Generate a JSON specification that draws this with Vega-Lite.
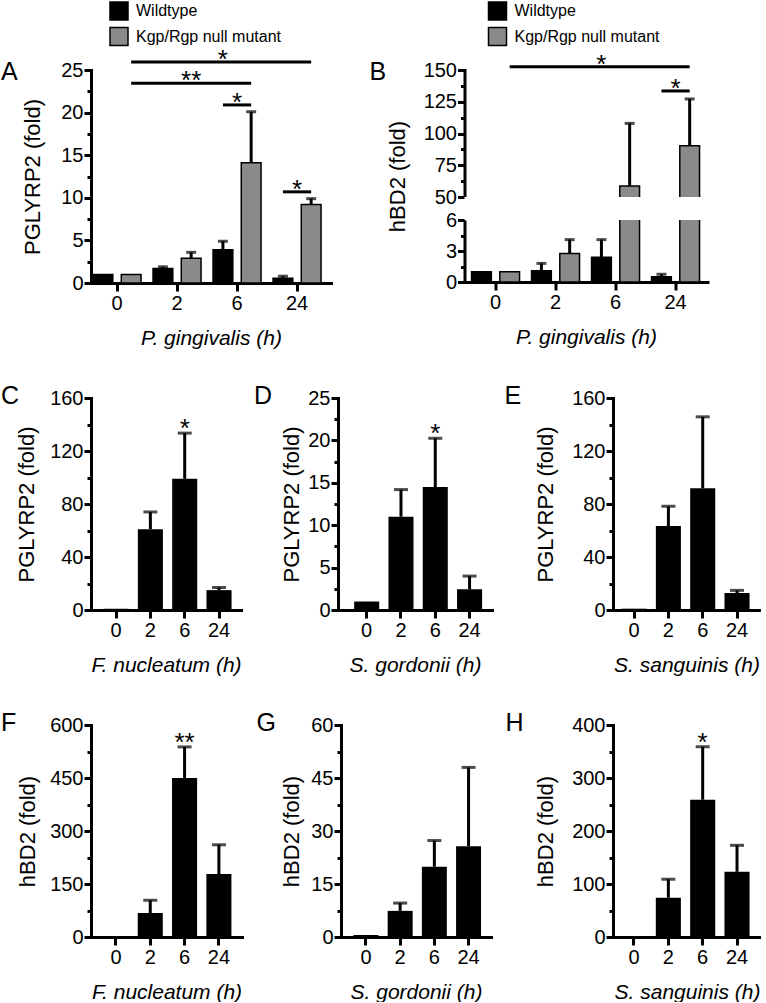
{
  "$schema": "https://vega.github.io/schema/vega-lite/v6.json",
  "padding": {"left": 0, "top": 1, "right": 0, "bottom": 0},
  "background": "white",
  "spacing": 36,
  "datasets": {
    "a": [
      {"time": 0, "group": "Wildtype", "mean": 1.0, "upper": null},
      {"time": 0, "group": "Kgp/Rgp null mutant", "mean": 1.0, "upper": null},
      {"time": 2, "group": "Wildtype", "mean": 1.7, "upper": 1.9},
      {"time": 2, "group": "Kgp/Rgp null mutant", "mean": 2.9, "upper": 3.6},
      {"time": 6, "group": "Wildtype", "mean": 3.9, "upper": 4.9},
      {"time": 6, "group": "Kgp/Rgp null mutant", "mean": 14.1, "upper": 20.1},
      {"time": 24, "group": "Wildtype", "mean": 0.55, "upper": 0.8},
      {"time": 24, "group": "Kgp/Rgp null mutant", "mean": 9.2, "upper": 9.9}
    ],
    "a_br": [
      {"id": 1, "time": 0, "group": "Kgp/Rgp null mutant", "level": 25.95},
      {"id": 1, "time": 24, "group": "Kgp/Rgp null mutant", "level": 25.95},
      {"id": 2, "time": 0, "group": "Kgp/Rgp null mutant", "level": 23.45},
      {"id": 2, "time": 6, "group": "Kgp/Rgp null mutant", "level": 23.45},
      {"id": 3, "time": 6, "group": "Wildtype", "level": 20.9},
      {"id": 3, "time": 6, "group": "Kgp/Rgp null mutant", "level": 20.9},
      {"id": 4, "time": 24, "group": "Wildtype", "level": 10.7},
      {"id": 4, "time": 24, "group": "Kgp/Rgp null mutant", "level": 10.7}
    ],
    "a_st1": [
      {"time": 6, "group": "Wildtype", "level": 25.95, "label": "*"},
      {"time": 2, "group": "Kgp/Rgp null mutant", "level": 23.45, "label": "**"}
    ],
    "a_st2": [
      {"time": 6, "level": 20.9, "label": "*"},
      {"time": 24, "level": 10.7, "label": "*"}
    ],
    "b": [
      {"time": 0, "group": "Wildtype", "mean": 1.0, "upper": null},
      {"time": 0, "group": "Kgp/Rgp null mutant", "mean": 1.0, "upper": null},
      {"time": 2, "group": "Wildtype", "mean": 1.1, "upper": 1.8},
      {"time": 2, "group": "Kgp/Rgp null mutant", "mean": 2.75, "upper": 4.1},
      {"time": 6, "group": "Wildtype", "mean": 2.4, "upper": 4.1},
      {"time": 6, "group": "Kgp/Rgp null mutant", "mean": 58.6, "upper": 108},
      {"time": 24, "group": "Wildtype", "mean": 0.5, "upper": 0.75},
      {"time": 24, "group": "Kgp/Rgp null mutant", "mean": 90.3, "upper": 127.2}
    ],
    "b_br": [
      {"id": 1, "time": 0, "group": "Kgp/Rgp null mutant", "level": 152.6},
      {"id": 1, "time": 24, "group": "Kgp/Rgp null mutant", "level": 152.6},
      {"id": 2, "time": 24, "group": "Wildtype", "level": 133.5},
      {"id": 2, "time": 24, "group": "Kgp/Rgp null mutant", "level": 133.5}
    ],
    "b_st1": [
      {"time": 6, "group": "Wildtype", "level": 152.6, "label": "*"}
    ],
    "b_st2": [
      {"time": 24, "level": 133.5, "label": "*"}
    ],
    "c": [
      {"time": 0, "mean": 1, "upper": null, "star": null},
      {"time": 2, "mean": 61, "upper": 74, "star": null},
      {"time": 6, "mean": 99, "upper": 133.5, "star": "*"},
      {"time": 24, "mean": 15, "upper": 17, "star": null}
    ],
    "d": [
      {"time": 0, "mean": 1.0, "upper": null, "star": null},
      {"time": 2, "mean": 11.0, "upper": 14.2, "star": null},
      {"time": 6, "mean": 14.5, "upper": 20.25, "star": "*"},
      {"time": 24, "mean": 2.45, "upper": 4.0, "star": null}
    ],
    "e": [
      {"time": 0, "mean": 1, "upper": null, "star": null},
      {"time": 2, "mean": 63.4, "upper": 78.3, "star": null},
      {"time": 6, "mean": 91.8, "upper": 145.8, "star": null},
      {"time": 24, "mean": 12.8, "upper": 14.8, "star": null}
    ],
    "f": [
      {"time": 0, "mean": 1, "upper": null, "star": null},
      {"time": 2, "mean": 68, "upper": 104, "star": null},
      {"time": 6, "mean": 450, "upper": 538, "star": "**"},
      {"time": 24, "mean": 178, "upper": 261, "star": null}
    ],
    "g": [
      {"time": 0, "mean": 0.6, "upper": null, "star": null},
      {"time": 2, "mean": 7.4, "upper": 9.6, "star": null},
      {"time": 6, "mean": 19.9, "upper": 27.3, "star": null},
      {"time": 24, "mean": 25.7, "upper": 48, "star": null}
    ],
    "h": [
      {"time": 0, "mean": 1, "upper": null, "star": null},
      {"time": 2, "mean": 74, "upper": 109, "star": null},
      {"time": 6, "mean": 259, "upper": 359, "star": "*"},
      {"time": 24, "mean": 123, "upper": 173, "star": null}
    ]
  },
  "config": {
    "view": {"stroke": null},
    "font": "Liberation Sans",
    "axis": {
      "domainColor": "#000", "domainWidth": 3, "domainCap": "square",
      "tickColor": "#000", "tickWidth": 3,
      "labelColor": "#000", "titleColor": "#000",
      "labelFont": "Liberation Sans", "titleFont": "Liberation Sans",
      "labelFontSize": 20, "titleFontSize": 22, "titleFontWeight": "normal",
      "grid": false, "labelOverlap": false
    },
    "axisX": {"tickSize": 8, "labelAngle": 0, "labelPadding": 2, "titleFontStyle": "italic", "titleFontSize": 21, "titlePadding": 14},
    "axisY": {"labelPadding": 1, "tickCount": 100, "format": "d"},
    "legend": {
      "labelFont": "Liberation Sans", "labelFontSize": 16, "labelColor": "#000",
      "symbolType": "square", "symbolSize": 324, "symbolStrokeColor": "#000", "symbolStrokeWidth": 1.5,
      "rowPadding": 1.5, "labelOffset": 7, "padding": 0
    },
    "title": {"font": "Liberation Sans", "fontSize": 25, "fontWeight": "normal", "color": "#000", "orient": "top", "anchor": "start", "frame": "group", "align": "right", "baseline": "middle", "offset": 0},
    "text": {"font": "Liberation Sans", "color": "#000"}
  },
  "vconcat": [
    {
      "spacing": 38.5,
      "resolve": {"scale": {"fill": "independent"}, "legend": {"fill": "independent"}},
      "hconcat": [
        {
          "width": 240, "height": 213,
          "title": {"text": "A", "orient": "top", "anchor": "start", "frame": "group", "align": "right", "baseline": "middle", "offset": 0, "dx": -73.3, "dy": 96},
          "layer": [
            {
              "data": {"name": "a"},
              "mark": {"type": "bar", "stroke": "#000", "strokeWidth": 1.5},
              "encoding": {
                "x": {"field": "time", "type": "ordinal", "scale": {"paddingInner": 0.2, "paddingOuter": 0.1, "align": 0.17}, "axis": {"title": "P. gingivalis (h)"}},
                "xOffset": {"field": "group", "type": "nominal", "scale": {"domain": ["Wildtype", "Kgp/Rgp null mutant"], "paddingInner": 0.3}},
                "y": {"field": "mean", "type": "quantitative", "scale": {"domain": [0, 25], "nice": false},
                  "axis": {"title": "PGLYRP2 (fold)", "titlePadding": 16, "tickCount": 100, "format": "d", "values": [0, 2.5, 5, 7.5, 10, 12.5, 15, 17.5, 20, 22.5, 25],
                    "labelExpr": "datum.value % 5 === 0 ? datum.label : ''",
                    "tickSize": {"condition": {"test": "datum.value % 5 === 0", "value": 7}, "value": 4}}},
                "fill": {"field": "group", "type": "nominal", "scale": {"domain": ["Wildtype", "Kgp/Rgp null mutant"], "range": ["#000000", "#8a8a8a"]},
                  "legend": {"orient": "none", "legendX": 18, "legendY": -69, "direction": "vertical", "title": null}}
              }
            },
            {
              "data": {"name": "a"},
              "transform": [{"filter": "datum.upper != null"}],
              "mark": {"type": "rule", "strokeWidth": 3, "color": "#000"},
              "encoding": {
                "x": {"field": "time", "type": "ordinal"},
                "xOffset": {"field": "group", "type": "nominal", "scale": {"domain": ["Wildtype", "Kgp/Rgp null mutant"]}},
                "y": {"field": "mean", "type": "quantitative"},
                "y2": {"field": "upper"}
              }
            },
            {
              "data": {"name": "a"},
              "transform": [{"filter": "datum.upper != null"}],
              "mark": {"type": "tick", "thickness": 3, "size": 10, "color": "#000"},
              "encoding": {
                "x": {"field": "time", "type": "ordinal"},
                "xOffset": {"field": "group", "type": "nominal", "scale": {"domain": ["Wildtype", "Kgp/Rgp null mutant"]}},
                "y": {"field": "upper", "type": "quantitative"}
              }
            },
            {
              "data": {"name": "a_br"},
              "mark": {"type": "line", "strokeWidth": 3, "color": "#000"},
              "encoding": {
                "x": {"field": "time", "type": "ordinal"},
                "xOffset": {"field": "group", "type": "nominal", "scale": {"domain": ["Wildtype", "Kgp/Rgp null mutant"]}},
                "y": {"field": "level", "type": "quantitative"},
                "detail": {"field": "id", "type": "nominal"}
              }
            },
            {
              "data": {"name": "a_st1"},
              "mark": {"type": "text", "fontSize": 26, "dy": 6, "baseline": "alphabetic"},
              "encoding": {
                "x": {"field": "time", "type": "ordinal"},
                "xOffset": {"field": "group", "type": "nominal", "scale": {"domain": ["Wildtype", "Kgp/Rgp null mutant"]}},
                "y": {"field": "level", "type": "quantitative"},
                "text": {"field": "label"}
              }
            },
            {
              "data": {"name": "a_st2"},
              "mark": {"type": "text", "fontSize": 26, "dy": 6, "baseline": "alphabetic"},
              "encoding": {
                "x": {"field": "time", "type": "ordinal"},
                "y": {"field": "level", "type": "quantitative"},
                "text": {"field": "label"}
              }
            }
          ]
        },
        {
          "width": 243, "height": 212,
          "title": {"text": "B", "orient": "top", "anchor": "start", "frame": "group", "align": "right", "baseline": "middle", "offset": 0, "dx": -78.3, "dy": 96},
          "layer": [
            {
              "data": {"name": "b"},
              "mark": {"type": "bar", "stroke": "#000", "strokeWidth": 1.5},
              "encoding": {
                "x": {"field": "time", "type": "ordinal", "scale": {"paddingInner": 0.2, "paddingOuter": 0.125, "align": 0.47}, "axis": {"title": "P. gingivalis (h)"}},
                "xOffset": {"field": "group", "type": "nominal", "scale": {"domain": ["Wildtype", "Kgp/Rgp null mutant"], "paddingInner": 0.3}},
                "y": {"field": "mean", "type": "quantitative", "scale": {"domain": [0, 6, 50, 150], "range": [212, 150, 127, 0], "nice": false, "zero": false},
                  "axis": {"title": "hBD2 (fold)", "titlePadding": 14, "tickCount": 100, "format": "d", "values": [0, 1.5, 3, 4.5, 6, 50, 62.5, 75, 87.5, 100, 112.5, 125, 137.5, 150],
                    "labelExpr": "indexof([0,3,6,50,75,100,125,150], datum.value) >= 0 ? datum.label : ''",
                    "tickSize": {"condition": {"test": "indexof([0,3,6,50,75,100,125,150], datum.value) >= 0", "value": 7}, "value": 4},
                    "domainDash": [60.5, 26, 200]}},
                "fill": {"field": "group", "type": "nominal", "scale": {"domain": ["Wildtype", "Kgp/Rgp null mutant"], "range": ["#000000", "#8a8a8a"]},
                  "legend": {"orient": "none", "legendX": 23, "legendY": -69, "direction": "vertical", "title": null}}
              }
            },
            {
              "data": {"values": [{"gap": "axis break"}]},
              "mark": {"type": "rect", "color": "white"},
              "encoding": {
                "y": {"datum": 6, "type": "quantitative"},
                "y2": {"datum": 50}
              }
            },
            {
              "data": {"name": "b"},
              "transform": [{"filter": "datum.upper != null"}],
              "mark": {"type": "rule", "strokeWidth": 3, "color": "#000"},
              "encoding": {
                "x": {"field": "time", "type": "ordinal"},
                "xOffset": {"field": "group", "type": "nominal", "scale": {"domain": ["Wildtype", "Kgp/Rgp null mutant"]}},
                "y": {"field": "mean", "type": "quantitative"},
                "y2": {"field": "upper"}
              }
            },
            {
              "data": {"name": "b"},
              "transform": [{"filter": "datum.upper != null"}],
              "mark": {"type": "tick", "thickness": 3, "size": 10, "color": "#000"},
              "encoding": {
                "x": {"field": "time", "type": "ordinal"},
                "xOffset": {"field": "group", "type": "nominal", "scale": {"domain": ["Wildtype", "Kgp/Rgp null mutant"]}},
                "y": {"field": "upper", "type": "quantitative"}
              }
            },
            {
              "data": {"name": "b_br"},
              "mark": {"type": "line", "strokeWidth": 3, "color": "#000"},
              "encoding": {
                "x": {"field": "time", "type": "ordinal"},
                "xOffset": {"field": "group", "type": "nominal", "scale": {"domain": ["Wildtype", "Kgp/Rgp null mutant"]}},
                "y": {"field": "level", "type": "quantitative"},
                "detail": {"field": "id", "type": "nominal"}
              }
            },
            {
              "data": {"name": "b_st1"},
              "mark": {"type": "text", "fontSize": 26, "dy": 6, "baseline": "alphabetic"},
              "encoding": {
                "x": {"field": "time", "type": "ordinal"},
                "xOffset": {"field": "group", "type": "nominal", "scale": {"domain": ["Wildtype", "Kgp/Rgp null mutant"]}},
                "y": {"field": "level", "type": "quantitative"},
                "text": {"field": "label"}
              }
            },
            {
              "data": {"name": "b_st2"},
              "mark": {"type": "text", "fontSize": 26, "dy": 6, "baseline": "alphabetic"},
              "encoding": {
                "x": {"field": "time", "type": "ordinal"},
                "y": {"field": "level", "type": "quantitative"},
                "text": {"field": "label"}
              }
            }
          ]
        }
      ]
    },
    {
      "spacing": 12,
      "hconcat": [
        {
          "width": 150, "height": 212, "data": {"name": "c"},
          "title": {"text": "C", "orient": "top", "anchor": "start", "frame": "group", "align": "right", "baseline": "middle", "offset": 0, "dx": -72, "dy": 33},
          "layer": [
            {"mark": {"type": "bar", "color": "#000"},
             "encoding": {
               "x": {"field": "time", "type": "ordinal", "scale": {"paddingInner": 0.27, "paddingOuter": 0.32, "align": 0.57}, "axis": {"title": "F. nucleatum (h)"}},
               "y": {"field": "mean", "type": "quantitative", "scale": {"domain": [0, 160], "nice": false},
                 "axis": {"title": "PGLYRP2 (fold)", "titlePadding": 11, "tickCount": 100, "format": "d", "values": [0, 20, 40, 60, 80, 100, 120, 140, 160], "labelExpr": "datum.value % 40 === 0 ? datum.label : ''",
                   "tickSize": {"condition": {"test": "datum.value % 40 === 0", "value": 7}, "value": 4}}}}},
            {"transform": [{"filter": "datum.upper != null"}], "mark": {"type": "rule", "strokeWidth": 3, "color": "#000"},
             "encoding": {"x": {"field": "time", "type": "ordinal"}, "y": {"field": "mean", "type": "quantitative"}, "y2": {"field": "upper"}}},
            {"transform": [{"filter": "datum.upper != null"}], "mark": {"type": "tick", "thickness": 3, "size": 14, "color": "#000"},
             "encoding": {"x": {"field": "time", "type": "ordinal"}, "y": {"field": "upper", "type": "quantitative"}}},
            {"transform": [{"filter": "datum.star != null"}], "mark": {"type": "text", "fontSize": 26, "dy": 4, "baseline": "alphabetic"},
             "encoding": {"x": {"field": "time", "type": "ordinal"}, "y": {"field": "upper", "type": "quantitative"}, "text": {"field": "star"}}}
          ]
        },
        {
          "width": 154, "height": 212, "data": {"name": "d"},
          "title": {"text": "D", "orient": "top", "anchor": "start", "frame": "group", "align": "right", "baseline": "middle", "offset": 0, "dx": -65.85, "dy": 33},
          "layer": [
            {"mark": {"type": "bar", "color": "#000"},
             "encoding": {
               "x": {"field": "time", "type": "ordinal", "scale": {"paddingInner": 0.27, "paddingOuter": 0.38, "align": 0.62}, "axis": {"title": "S. gordonii (h)"}},
               "y": {"field": "mean", "type": "quantitative", "scale": {"domain": [0, 25], "nice": false},
                 "axis": {"title": "PGLYRP2 (fold)", "titlePadding": 4, "tickCount": 100, "format": "d", "values": [0, 2.5, 5, 7.5, 10, 12.5, 15, 17.5, 20, 22.5, 25], "labelExpr": "datum.value % 5 === 0 ? datum.label : ''",
                   "tickSize": {"condition": {"test": "datum.value % 5 === 0", "value": 7}, "value": 4}}}}},
            {"transform": [{"filter": "datum.upper != null"}], "mark": {"type": "rule", "strokeWidth": 3, "color": "#000"},
             "encoding": {"x": {"field": "time", "type": "ordinal"}, "y": {"field": "mean", "type": "quantitative"}, "y2": {"field": "upper"}}},
            {"transform": [{"filter": "datum.upper != null"}], "mark": {"type": "tick", "thickness": 3, "size": 14, "color": "#000"},
             "encoding": {"x": {"field": "time", "type": "ordinal"}, "y": {"field": "upper", "type": "quantitative"}}},
            {"transform": [{"filter": "datum.star != null"}], "mark": {"type": "text", "fontSize": 26, "dy": 4, "baseline": "alphabetic"},
             "encoding": {"x": {"field": "time", "type": "ordinal"}, "y": {"field": "upper", "type": "quantitative"}, "text": {"field": "star"}}}
          ]
        },
        {
          "width": 147, "height": 212, "data": {"name": "e"},
          "title": {"text": "E", "orient": "top", "anchor": "start", "frame": "group", "align": "right", "baseline": "middle", "offset": 0, "dx": -91.8, "dy": 33},
          "layer": [
            {"mark": {"type": "bar", "color": "#000"},
             "encoding": {
               "x": {"field": "time", "type": "ordinal", "scale": {"paddingInner": 0.27, "paddingOuter": 0.277, "align": 0.45}, "axis": {"title": "S. sanguinis (h)"}},
               "y": {"field": "mean", "type": "quantitative", "scale": {"domain": [0, 160], "nice": false},
                 "axis": {"title": "PGLYRP2 (fold)", "titlePadding": 14, "tickCount": 100, "format": "d", "values": [0, 20, 40, 60, 80, 100, 120, 140, 160], "labelExpr": "datum.value % 40 === 0 ? datum.label : ''",
                   "tickSize": {"condition": {"test": "datum.value % 40 === 0", "value": 7}, "value": 4}}}}},
            {"transform": [{"filter": "datum.upper != null"}], "mark": {"type": "rule", "strokeWidth": 3, "color": "#000"},
             "encoding": {"x": {"field": "time", "type": "ordinal"}, "y": {"field": "mean", "type": "quantitative"}, "y2": {"field": "upper"}}},
            {"transform": [{"filter": "datum.upper != null"}], "mark": {"type": "tick", "thickness": 3, "size": 14, "color": "#000"},
             "encoding": {"x": {"field": "time", "type": "ordinal"}, "y": {"field": "upper", "type": "quantitative"}}}
          ]
        }
      ]
    },
    {
      "spacing": 14,
      "hconcat": [
        {
          "width": 151, "height": 212, "data": {"name": "f"},
          "title": {"text": "F", "orient": "top", "anchor": "start", "frame": "group", "align": "right", "baseline": "middle", "offset": 0, "dx": -74.7, "dy": 33},
          "layer": [
            {"mark": {"type": "bar", "color": "#000"},
             "encoding": {
               "x": {"field": "time", "type": "ordinal", "scale": {"paddingInner": 0.27, "paddingOuter": 0.335, "align": 0.54}, "axis": {"title": "F. nucleatum (h)"}},
               "y": {"field": "mean", "type": "quantitative", "scale": {"domain": [0, 600], "nice": false},
                 "axis": {"title": "hBD2 (fold)", "titlePadding": 10, "tickCount": 100, "format": "d", "values": [0, 75, 150, 225, 300, 375, 450, 525, 600], "labelExpr": "datum.value % 150 === 0 ? datum.label : ''",
                   "tickSize": {"condition": {"test": "datum.value % 150 === 0", "value": 7}, "value": 4}}}}},
            {"transform": [{"filter": "datum.upper != null"}], "mark": {"type": "rule", "strokeWidth": 3, "color": "#000"},
             "encoding": {"x": {"field": "time", "type": "ordinal"}, "y": {"field": "mean", "type": "quantitative"}, "y2": {"field": "upper"}}},
            {"transform": [{"filter": "datum.upper != null"}], "mark": {"type": "tick", "thickness": 3, "size": 14, "color": "#000"},
             "encoding": {"x": {"field": "time", "type": "ordinal"}, "y": {"field": "upper", "type": "quantitative"}}},
            {"transform": [{"filter": "datum.star != null"}], "mark": {"type": "text", "fontSize": 26, "dy": 4, "baseline": "alphabetic"},
             "encoding": {"x": {"field": "time", "type": "ordinal"}, "y": {"field": "upper", "type": "quantitative"}, "text": {"field": "star"}}}
          ]
        },
        {
          "width": 150, "height": 212, "data": {"name": "g"},
          "title": {"text": "G", "orient": "top", "anchor": "start", "frame": "group", "align": "right", "baseline": "middle", "offset": 0, "dx": -64.95, "dy": 33},
          "layer": [
            {"mark": {"type": "bar", "color": "#000"},
             "encoding": {
               "x": {"field": "time", "type": "ordinal", "scale": {"paddingInner": 0.27, "paddingOuter": 0.328, "align": 0.556}, "axis": {"title": "S. gordonii (h)"}},
               "y": {"field": "mean", "type": "quantitative", "scale": {"domain": [0, 60], "nice": false},
                 "axis": {"title": "hBD2 (fold)", "titlePadding": 7, "tickCount": 100, "format": "d", "values": [0, 7.5, 15, 22.5, 30, 37.5, 45, 52.5, 60], "labelExpr": "datum.value % 15 === 0 ? datum.label : ''",
                   "tickSize": {"condition": {"test": "datum.value % 15 === 0", "value": 7}, "value": 4}}}}},
            {"transform": [{"filter": "datum.upper != null"}], "mark": {"type": "rule", "strokeWidth": 3, "color": "#000"},
             "encoding": {"x": {"field": "time", "type": "ordinal"}, "y": {"field": "mean", "type": "quantitative"}, "y2": {"field": "upper"}}},
            {"transform": [{"filter": "datum.upper != null"}], "mark": {"type": "tick", "thickness": 3, "size": 14, "color": "#000"},
             "encoding": {"x": {"field": "time", "type": "ordinal"}, "y": {"field": "upper", "type": "quantitative"}}}
          ]
        },
        {
          "width": 148, "height": 212, "data": {"name": "h"},
          "title": {"text": "H", "orient": "top", "anchor": "start", "frame": "group", "align": "right", "baseline": "middle", "offset": 0, "dx": -89.45, "dy": 33},
          "layer": [
            {"mark": {"type": "bar", "color": "#000"},
             "encoding": {
               "x": {"field": "time", "type": "ordinal", "scale": {"paddingInner": 0.27, "paddingOuter": 0.29, "align": 0.425}, "axis": {"title": "S. sanguinis (h)"}},
               "y": {"field": "mean", "type": "quantitative", "scale": {"domain": [0, 400], "nice": false},
                 "axis": {"title": "hBD2 (fold)", "titlePadding": 14, "tickCount": 100, "format": "d", "values": [0, 50, 100, 150, 200, 250, 300, 350, 400], "labelExpr": "datum.value % 100 === 0 ? datum.label : ''",
                   "tickSize": {"condition": {"test": "datum.value % 100 === 0", "value": 7}, "value": 4}}}}},
            {"transform": [{"filter": "datum.upper != null"}], "mark": {"type": "rule", "strokeWidth": 3, "color": "#000"},
             "encoding": {"x": {"field": "time", "type": "ordinal"}, "y": {"field": "mean", "type": "quantitative"}, "y2": {"field": "upper"}}},
            {"transform": [{"filter": "datum.upper != null"}], "mark": {"type": "tick", "thickness": 3, "size": 14, "color": "#000"},
             "encoding": {"x": {"field": "time", "type": "ordinal"}, "y": {"field": "upper", "type": "quantitative"}}},
            {"transform": [{"filter": "datum.star != null"}], "mark": {"type": "text", "fontSize": 26, "dy": 4, "baseline": "alphabetic"},
             "encoding": {"x": {"field": "time", "type": "ordinal"}, "y": {"field": "upper", "type": "quantitative"}, "text": {"field": "star"}}}
          ]
        }
      ]
    }
  ]
}
